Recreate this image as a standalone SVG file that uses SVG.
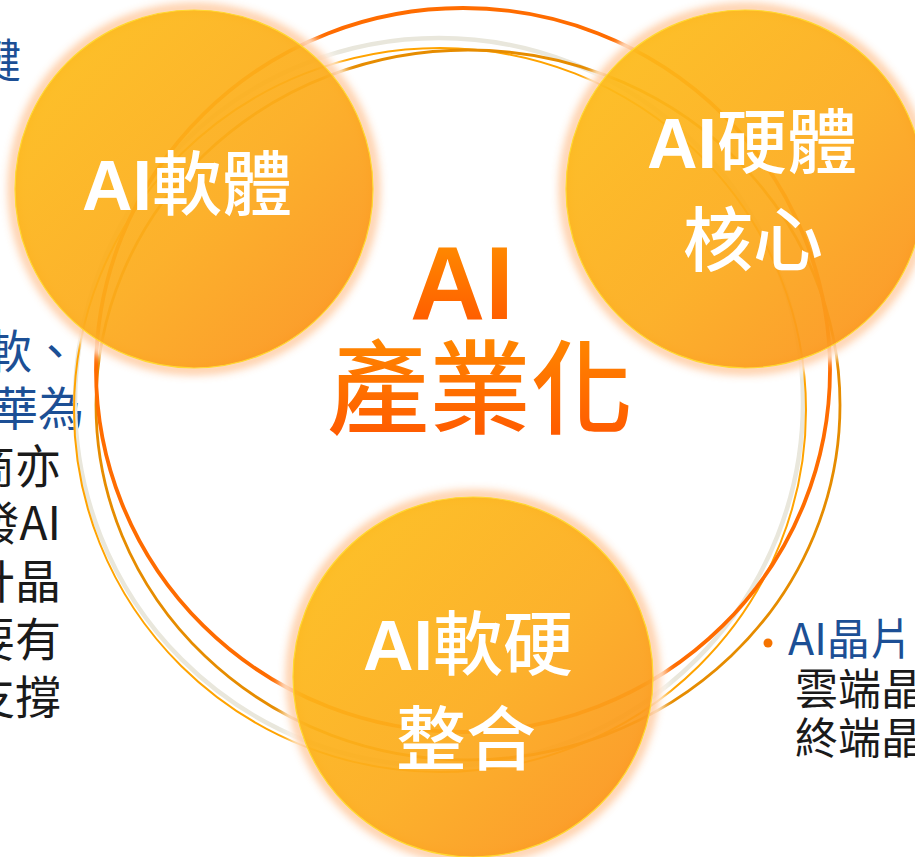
<svg xmlns="http://www.w3.org/2000/svg" width="915" height="857" viewBox="0 0 915 857">
  <defs>
    <linearGradient id="cg" x1="0" y1="0" x2="1" y2="1">
      <stop offset="0" stop-color="#fdbf18"/>
      <stop offset="0.55" stop-color="#fcab1c"/>
      <stop offset="1" stop-color="#fb8e1c"/>
    </linearGradient>
    <linearGradient id="tg" x1="0" y1="0" x2="0" y2="1">
      <stop offset="0" stop-color="#ff9400"/>
      <stop offset="1" stop-color="#ff5200"/>
    </linearGradient>
    <filter id="blur" x="-20%" y="-20%" width="140%" height="140%">
      <feGaussianBlur stdDeviation="5"/>
    </filter>
    <style>
      .halo { fill: none; stroke: #ffffff; stroke-width: 16; opacity: 0.9; }
      .glow { fill: none; stroke: #ff9440; stroke-width: 8; opacity: 0.6; }
      .disc { fill: url(#cg); fill-opacity: 0.93; stroke: #ffd830; stroke-width: 1.2; }
      .lbl { fill: #ffffff; font-size: 70px; font-weight: 500; font-family: "Noto Sans CJK TC", "Noto Sans CJK SC", sans-serif; }
      .lat { font-family: "Liberation Sans", Arial, sans-serif; font-weight: bold; }
      .center { fill: url(#tg); }
      .blue { fill: #1c4f95; font-family: "Noto Sans CJK TC", sans-serif; }
      .black { fill: #1a1a1a; font-family: "Noto Sans CJK TC", sans-serif; }
      .ring { fill: none; }
    </style>
  </defs>
  <rect width="915" height="857" fill="#ffffff"/>

  <g id="side-text-left" font-size="46" text-anchor="end">
    <text class="blue" x="21" y="77">鍵</text>
    <text class="blue" x="78" y="368">軟、</text>
    <text class="blue" x="84" y="425">華為</text>
    <text class="black" x="61" y="483">商亦</text>
    <text class="black" x="61" y="540">發AI</text>
    <text class="black" x="61" y="598">計晶</text>
    <text class="black" x="61" y="656">要有</text>
    <text class="black" x="61" y="714">支撐</text>
  </g>

  <g id="side-text-right" font-size="43">
    <circle cx="768" cy="643" r="4.5" fill="#f57300"/>
    <text class="blue" x="788" y="655">AI晶片</text>
    <text class="black" x="795" y="705">雲端晶</text>
    <text class="black" x="795" y="754">終端晶</text>
  </g>

  <g id="connectors">
    <ellipse class="ring" cx="439" cy="402" rx="364" ry="364" stroke="#e9e7dc" stroke-width="4.5"/>
    <ellipse class="ring" cx="440" cy="410" rx="366" ry="362" stroke="#ffa300" stroke-width="2"/>
    <ellipse class="ring" cx="468" cy="405" rx="372" ry="355" stroke="#e68c00" stroke-width="2.8"/>
    <ellipse class="ring" cx="463" cy="370" rx="367" ry="362" stroke="#ff6c00" stroke-width="3.8"/>
  </g>

  <g id="node-ai-software">
    <circle class="halo" cx="194" cy="189" r="184" filter="url(#blur)"/>
    <circle class="glow" cx="194" cy="189" r="181" filter="url(#blur)"/>
    <circle class="disc" cx="194" cy="189" r="179"/>
    <text class="lbl" x="82" y="210"><tspan class="lat">AI</tspan>軟體</text>
  </g>

  <g id="node-ai-hardware">
    <circle class="halo" cx="745" cy="189" r="184" filter="url(#blur)"/>
    <circle class="glow" cx="745" cy="189" r="181" filter="url(#blur)"/>
    <circle class="disc" cx="745" cy="189" r="179"/>
    <text class="lbl" x="752" y="168" text-anchor="middle"><tspan class="lat">AI</tspan>硬體</text>
    <text class="lbl" x="753" y="266" text-anchor="middle">核心</text>
  </g>

  <g id="node-ai-integration">
    <circle class="halo" cx="473" cy="677" r="185" filter="url(#blur)"/>
    <circle class="glow" cx="473" cy="677" r="182" filter="url(#blur)"/>
    <circle class="disc" cx="473" cy="677" r="180"/>
    <text class="lbl" x="468" y="670" text-anchor="middle"><tspan class="lat">AI</tspan>軟硬</text>
    <text class="lbl" x="466" y="765" text-anchor="middle">整合</text>
  </g>

  <g id="node-center">
    <text class="center" x="462" y="319" text-anchor="middle" font-family="Liberation Sans, Arial, sans-serif" font-weight="bold" font-size="104">AI</text>
    <text class="center" x="480" y="426" text-anchor="middle" font-family="Noto Sans CJK TC, Noto Sans CJK SC, sans-serif" font-weight="500" font-size="102">產業化</text>
  </g>
</svg>
